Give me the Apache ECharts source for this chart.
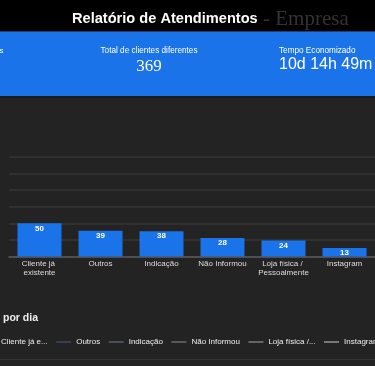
<!DOCTYPE html>
<html>
<head>
<meta charset="utf-8">
<script src="https://cdn.jsdelivr.net/npm/echarts@6/dist/echarts.min.js"></script>
<style>
html,body{margin:0;padding:0;background:#232323;}
#c{width:375px;height:366px;}
</style>
</head>
<body>
<div id="c"></div>
<script>
// ---- data ----
const categories = ['Cliente já existente', 'Outros', 'Indicação', 'Não Informou', 'Loja física / Pessoalmente', 'Instagram'];
const atendimentos = [50, 39, 38, 28, 24, 13];
const yTicks = { min: 0, max: 150, interval: 25 };
const dailySeriesNames = ['Cliente já existente', 'Outros', 'Indicação', 'Não Informou', 'Loja física / Pessoalmente', 'Instagram'];
const dailyColors = ['#1a73e8', '#4b5a80', '#6e7c99', '#8f8f8f', '#a8a8a8', '#cccccc'];
const kpiTotalClientes = '369';
const kpiTempo = '10d 14h 49m';

const SANS = '"Liberation Sans", Arial, sans-serif';
const SERIF = '"Liberation Serif", "Times New Roman", serif';
const LEGEND_FONT_SIZE = 8;
const LEGEND_MAX_W = 49;

const measureCtx = document.createElement('canvas').getContext('2d');
function truncate(name) {
  measureCtx.font = LEGEND_FONT_SIZE + 'px ' + SANS;
  if (measureCtx.measureText(name).width <= LEGEND_MAX_W) return name;
  let s = name;
  while (s.length > 1 && measureCtx.measureText(s + '...').width > LEGEND_MAX_W) {
    s = s.slice(0, -1);
  }
  return s.replace(/\s+$/, '') + '...';
}

const chart = echarts.init(document.getElementById('c'), null, { renderer: 'canvas' });

const option = {
  backgroundColor: '#232323',
  animation: false,
  graphic: [
    { type: 'rect', z: -10, shape: { x: 0, y: 0, width: 375, height: 31.5 }, style: { fill: '#000000' } },
    { type: 'rect', z: -10, shape: { x: 0, y: 31.5, width: 375, height: 64.5 }, style: { fill: '#1a73e8' } },
    { type: 'rect', z: -10, shape: { x: 0, y: 96, width: 375, height: 2 }, style: { fill: '#1b1b1b' } },
    { type: 'rect', z: -10, shape: { x: 0, y: 359, width: 375, height: 1 }, style: { fill: '#343434' } },
    { type: 'text', style: { text: 'Relatório de Atendimentos', x: 72, y: 18.5, fill: '#ffffff', font: 'bold 14.6px ' + SANS, verticalAlign: 'middle', align: 'left' } },
    { type: 'text', style: { text: '- Empresa', x: 263, y: 19, fill: '#333333', font: '21px ' + SERIF, verticalAlign: 'middle', align: 'left' } },
    { type: 'text', style: { text: 's', x: 3.5, y: 51, fill: '#ffffff', font: '8px ' + SANS, verticalAlign: 'middle', align: 'right' } },
    { type: 'text', style: { text: 'Total de clientes diferentes', x: 149, y: 51, fill: '#ffffff', font: '8.2px ' + SANS, verticalAlign: 'middle', align: 'center' } },
    { type: 'text', style: { text: kpiTotalClientes, x: 149, y: 66.5, fill: '#ffffff', font: '17px ' + SERIF, verticalAlign: 'middle', align: 'center' } },
    { type: 'text', style: { text: 'Tempo Economizado', x: 279, y: 51, fill: '#ffffff', font: '8.2px ' + SANS, verticalAlign: 'middle', align: 'left' } },
    { type: 'text', style: { text: kpiTempo, x: 279, y: 64.5, fill: '#ffffff', font: '16px ' + SANS, verticalAlign: 'middle', align: 'left' } },
    { type: 'text', style: { text: 'por dia', x: 3, y: 318, fill: '#eeeeee', font: 'bold 10.5px ' + SANS, verticalAlign: 'middle', align: 'left' } }
  ],
  legend: {
    data: dailySeriesNames,
    left: -19,
    top: 338,
    width: 600,
    padding: 0,
    itemWidth: 15,
    itemHeight: 14,
    itemGap: 8.5,
    icon: 'path://M0,6.5 L15,6.5 L15,7.5 L0,7.5 Z',
    textStyle: { color: '#eeeeee', fontSize: LEGEND_FONT_SIZE, fontFamily: SANS },
    formatter: truncate
  },
  grid: [
    { left: 9, right: -6, top: 157, bottom: 109.5, containLabel: false },
    { left: 0, right: 0, top: 500, height: 50 }
  ],
  xAxis: [
    {
      type: 'category',
      gridIndex: 0,
      data: categories,
      axisTick: { show: false },
      axisLine: { lineStyle: { color: '#5a5a5a', width: 1.5 } },
      axisLabel: {
        interval: 0, color: '#dddddd', fontSize: 8, fontFamily: SANS,
        width: 56, overflow: 'break', lineHeight: 9, margin: 3
      }
    },
    { type: 'category', gridIndex: 1, data: [], show: false }
  ],
  yAxis: [
    {
      type: 'value', gridIndex: 0,
      min: yTicks.min, max: yTicks.max, interval: yTicks.interval,
      axisLabel: { show: false }, axisLine: { show: false }, axisTick: { show: false },
      splitLine: { lineStyle: { color: '#363636', width: 1.5 } }
    },
    { type: 'value', gridIndex: 1, show: false }
  ],
  series: [
    {
      type: 'bar',
      xAxisIndex: 0, yAxisIndex: 0,
      data: atendimentos,
      barWidth: 44,
      itemStyle: { color: '#1a73e8' },
      label: {
        show: true, position: 'insideTop', distance: 1,
        color: '#ffffff', fontWeight: 'bold', fontSize: 8, fontFamily: SANS
      }
    }
  ].concat(dailySeriesNames.map(function (n, i) {
    return {
      type: 'line', name: n, xAxisIndex: 1, yAxisIndex: 1,
      data: [], symbol: 'none',
      itemStyle: { color: dailyColors[i] },
      lineStyle: { color: dailyColors[i], width: 1.5 }
    };
  }))
};

chart.setOption(option);
</script>
</body>
</html>
